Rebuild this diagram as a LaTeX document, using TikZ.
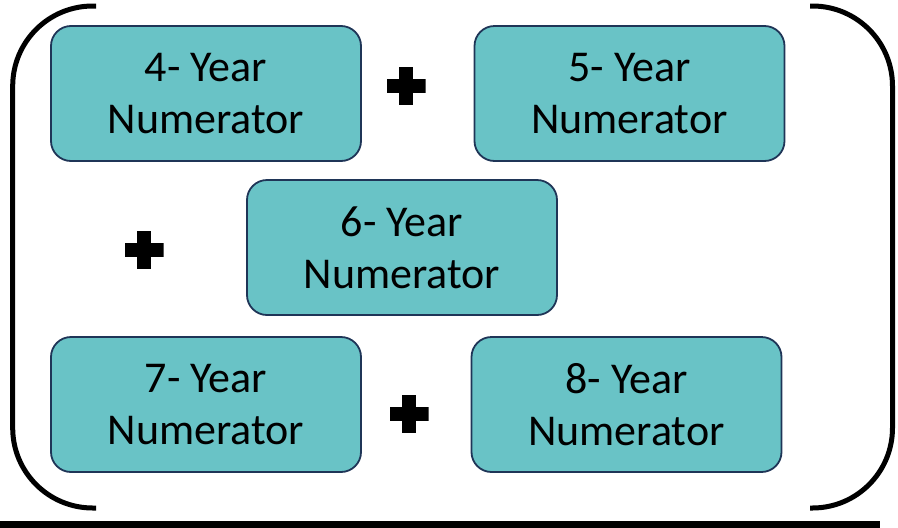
\documentclass[tikz,border=0pt]{standalone}
\usepackage{fontspec}
\setmainfont{Carlito}
\usepackage{xcolor}
\usepackage{tikz}
\usetikzlibrary{calc}
\definecolor{boxteal}{HTML}{69C3C6}
\definecolor{boxnavy}{HTML}{1F3557}
\tikzset{
  yearbox/.style={draw=boxnavy,line width=1.8pt,fill=boxteal,rounded corners=20pt,
    minimum width=310pt,minimum height=135pt,align=center,
    font=\fontsize{44}{52}\selectfont},
  plussign/.style={inner sep=0pt,minimum width=39pt,minimum height=38pt,
    path picture={
      \fill ($(path picture bounding box.north)+(-6.7pt,0)$) rectangle ($(path picture bounding box.south)+(6.7pt,0)$);
      \fill ($(path picture bounding box.west)+(0,-7pt)$) rectangle ($(path picture bounding box.east)+(0,7pt)$);}}
}

\begin{document}
\begin{tikzpicture}[x=1pt,y=-1pt]
\useasboundingbox (0,0) rectangle (898,528);
% brackets
\draw[line width=5pt,rounded corners=80pt] (96,6)--(12.7,6)--(12.7,508)--(96,508);
\draw[line width=5pt,rounded corners=80pt] (810,6)--(892.5,6)--(892.5,508)--(810,508);
\fill (0,520.5) rectangle (880,528);
% boxes
\node[yearbox] (yr4) at (206,93.5) {4- Year\\Numerator};
\node[yearbox] (yr5) at (629.5,93.5) {5- Year\\Numerator};
\node[yearbox] (yr6) at (402,247.5) {6- Year\\Numerator};
\node[yearbox] (yr7) at (206,404.5) {7- Year\\Numerator};
\node[yearbox] (yr8) at (626.5,404.5) {8- Year\\Numerator};
% plus signs
\node[plussign] (plusA) at (406,86) {};
\node[plussign] (plusB) at (144,250) {};
\node[plussign] (plusC) at (409,414) {};
\end{tikzpicture}
\end{document}
